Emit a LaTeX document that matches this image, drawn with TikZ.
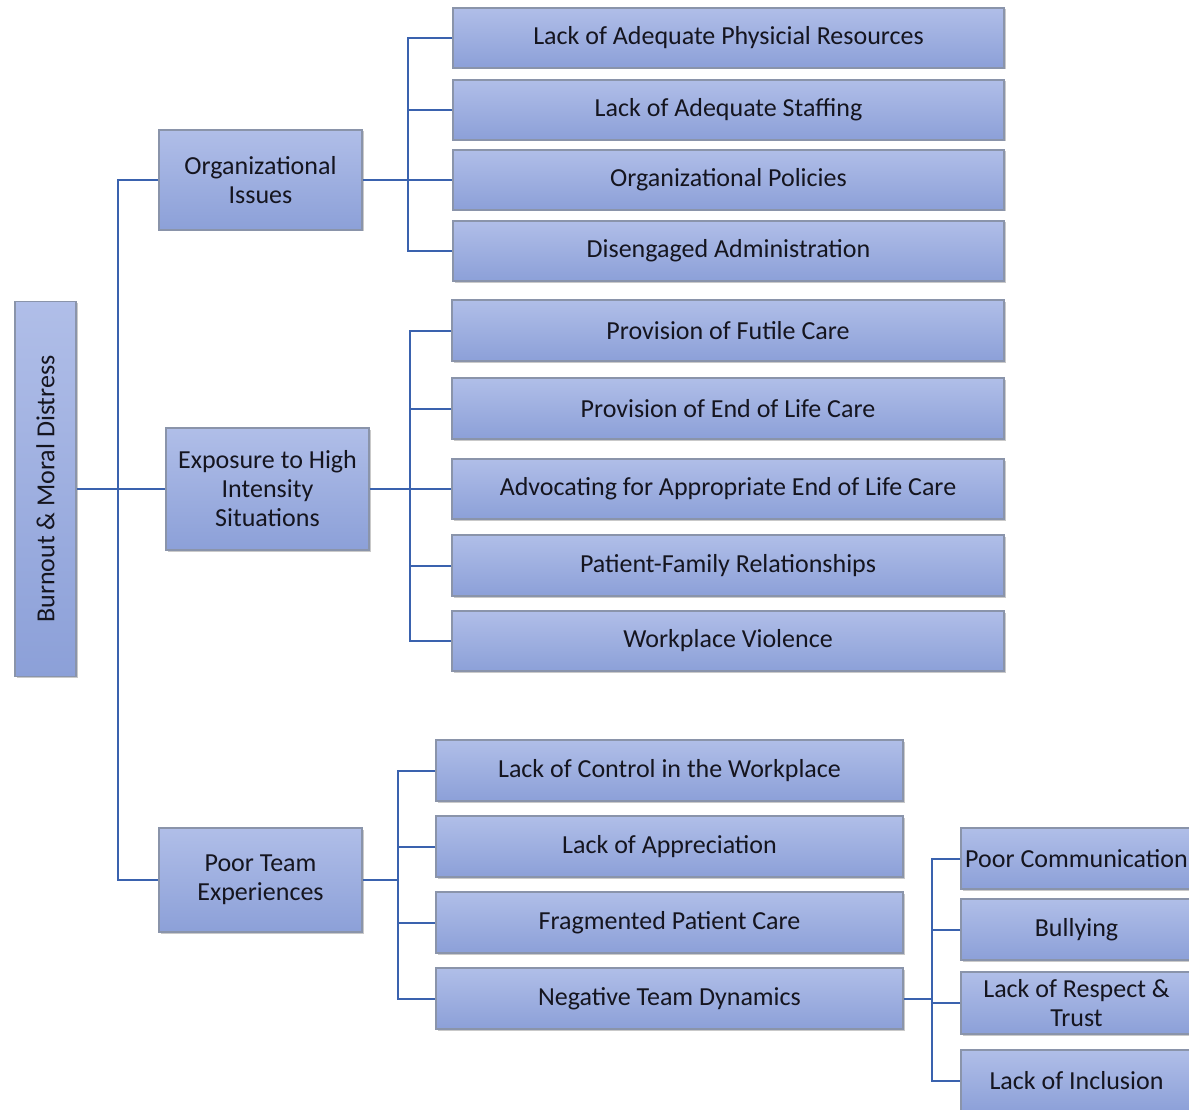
\documentclass[tikz,border=0pt]{standalone}
\usepackage{fontspec}
\setmainfont{Carlito}
\usetikzlibrary{calc,shadows}
\definecolor{boxtop}{HTML}{B0BEE8}
\definecolor{boxbot}{HTML}{8CA0D8}
\definecolor{boxline}{HTML}{8A94AA}
\definecolor{linkblue}{HTML}{3A62AE}
\definecolor{ink}{HTML}{15151F}
\tikzset{
  box/.style={draw=boxline, line width=1.2pt, top color=boxtop, bottom color=boxbot,
    text=ink, align=center, inner sep=2pt, font=\fontsize{26}{29}\selectfont,
    drop shadow={shadow xshift=1.5pt, shadow yshift=-1.5pt, fill=black!35, opacity=0.6}},
  conn/.style={draw=linkblue, line width=2pt},
}
\newcommand\bx[5]{% name, x0, y0, x1, y1 (px, y down), text
  \node[box, minimum width={(#4-#2)*1pt}, minimum height={(#5-#3)*1pt}]
    (#1) at ({(#2+#4)/2},{(#3+#5)/2})}
\begin{document}
\begin{tikzpicture}[x=1pt,y=-1pt]
\clip (0,0) rectangle (1189,1110);
\fill[white] (0,0) rectangle (1189,1110);

% root
\node[box, rotate=90, minimum width=375pt, minimum height=61pt] (root) at (45.5,489) {Burnout \& Moral Distress};

% second level
\bx{org}{159}{130}{362}{230} {Organizational\\Issues};
\bx{exp}{166}{428}{369}{550} {Exposure to High\\Intensity\\Situations};
\bx{team}{159}{828}{362}{932} {Poor Team\\Experiences};

% organizational issues
\bx{o1}{453}{8}{1004}{68} {Lack of Adequate Physicial Resources};
\bx{o2}{453}{80}{1004}{140} {Lack of Adequate Staffing};
\bx{o3}{453}{150}{1004}{210} {Organizational Policies};
\bx{o4}{453}{221}{1004}{281} {Disengaged Administration};

% high intensity situations
\bx{e1}{452}{300}{1004}{361} {Provision of Futile Care};
\bx{e2}{452}{378}{1004}{439} {Provision of End of Life Care};
\bx{e3}{452}{459}{1004}{519} {Advocating for Appropriate End of Life Care};
\bx{e4}{452}{535}{1004}{596} {Patient-Family Relationships};
\bx{e5}{452}{611}{1004}{671} {Workplace Violence};

% poor team experiences
\bx{t1}{436}{740}{903}{801} {Lack of Control in the Workplace};
\bx{t2}{436}{816}{903}{877} {Lack of Appreciation};
\bx{t3}{436}{892}{903}{953} {Fragmented Patient Care};
\bx{t4}{436}{968}{903}{1029} {Negative Team Dynamics};

% negative team dynamics
\bx{n1}{961}{828}{1192}{889} {Poor Communication};
\bx{n2}{961}{899}{1192}{960} {Bullying};
\bx{n3}{961}{972}{1192}{1034} {Lack of Respect \&\\Trust};
\bx{n4}{961}{1050}{1192}{1112} {Lack of Inclusion};

% connectors
\coordinate (trunk) at (118,0);
\coordinate (busO) at (408,0);
\coordinate (busE) at (410,0);
\coordinate (busT) at (398,0);
\coordinate (busN) at (932,0);

\draw[conn] (root.south) -- (exp.west);
\draw[conn] (org.west) -| (trunk |- exp.west) |- (team.west);
\draw[conn] (trunk |- org.west) -- (trunk |- exp.west);

\draw[conn] (o1.west) -| (busO |- o4.west) -- (o4.west);
\draw[conn] (o2.west) -- (busO |- o2.west);
\draw[conn] (org.east) -- (busO |- org.east);
\draw[conn] (busO |- o3.west) -- (o3.west);

\draw[conn] (e1.west) -| (busE |- e5.west) -- (e5.west);
\draw[conn] (e2.west) -- (busE |- e2.west);
\draw[conn] (e4.west) -- (busE |- e4.west);
\draw[conn] (exp.east) -- (busE |- exp.east);
\draw[conn] (busE |- e3.west) -- (e3.west);

\draw[conn] (t1.west) -| (busT |- t4.west) -- (t4.west);
\draw[conn] (t2.west) -- (busT |- t2.west);
\draw[conn] (t3.west) -- (busT |- t3.west);
\draw[conn] (team.east) -- (busT |- team.east);

\draw[conn] (n1.west) -| (busN |- n4.west) -- (n4.west);
\draw[conn] (n2.west) -- (busN |- n2.west);
\draw[conn] (n3.west) -- (busN |- n3.west);
\draw[conn] (t4.east) -- (busN |- t4.east);
\end{tikzpicture}
\end{document}
